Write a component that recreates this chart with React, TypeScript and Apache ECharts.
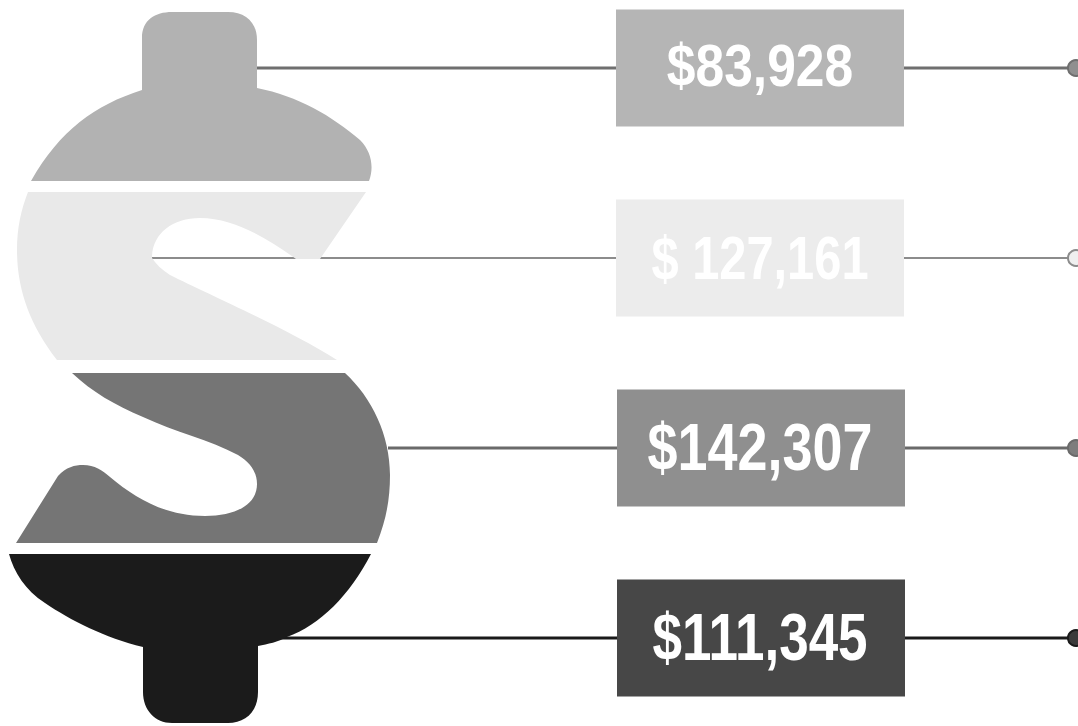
import React, { useEffect, useRef } from "react";
import * as echarts from "echarts";

const rows = [0, 1, 2, 3];
const amounts = [83928, 127161, 142307, 111345];
const amountLabels = ["$83,928", "$ 127,161", "$142,307", "$111,345"];

const segmentPaths = [
  "M 31 181 C 60 130 95 105 142 90 L 142 38 C 142 20 155 12 172 12 L 228 12 C 245 12 257 22 257 40 L 257 88 C 298 96 332 116 360 140 C 372 152 374 168 369 181 Z",
  "M 28 192 L 366 192 L 320 259 L 296 259 C 270 240 235 218 200 218 C 172 218 152 234 152 258 C 156 264 162 270 170 275 C 210 295 290 330 337 360 L 57 360 C 30 325 17 290 17 250 C 17 228 21 210 28 192 Z",
  "M 72 373 L 345 373 C 372 398 390 435 390 475 C 390 500 386 520 377 543 L 16 543 L 58 476 C 66 467 75 465 83 465 C 95 465 102 470 110 477 C 135 498 165 516 205 516 C 235 516 257 505 257 484 C 257 472 250 462 238 455 C 210 440 175 432 143 417 C 115 405 92 392 72 373 Z",
  "M 9 554 L 371 554 C 350 595 320 625 287 637 C 278 642 268 644 258 646 L 258 692 C 258 712 245 723 228 723 L 172 723 C 155 723 143 710 143 692 L 143 647 C 105 638 70 620 45 603 C 25 590 14 572 9 554 Z",
];
const segmentColors = ["#b2b2b2", "#e9e9e9", "#757575", "#1b1b1b"];
const boxColors = ["#b5b5b5", "#ececec", "#8f8f8f", "#474747"];
const lineColors = ["#6f6f6f", "#8c8c8c", "#6a6a6a", "#1a1a1a"];
const dotColors = ["#8f8f8f", "#efefef", "#7d7d7d", "#3a3a3a"];
const lineStarts = [256, 152, 388, 280];
const boxLefts = [616, 616, 617, 617];
const fontSizes = [60, 61, 67, 66];
const textScales = [0.86, 0.8, 0.805, 0.803];
const textOffsets = [-3, 0, -1, -1];

export default function App() {
  const ref = useRef<HTMLDivElement>(null);
  useEffect(() => {
    const chart = echarts.init(ref.current!, null, { renderer: "svg" });
    chart.setOption({
      animation: false,
      backgroundColor: "#ffffff",
      grid: { left: 0, right: 0, top: 0, bottom: 0, containLabel: false },
      xAxis: { type: "value", min: 0, max: 1078, show: false },
      yAxis: { type: "value", inverse: true, min: -68 / 190, max: 658 / 190, show: false },
      series: [
        {
          type: "custom",
          coordinateSystem: "cartesian2d",
          clip: false,
          data: amounts.map((v, i) => [v, rows[i]]),
          renderItem: (params: any, api: any) => {
            const i = params.dataIndex;
            const rowY = api.coord([0, api.value(1)])[1];
            const lineX = api.coord([lineStarts[i], 0])[0];
            const dotX = api.coord([1076, 0])[0];
            const boxX = api.coord([boxLefts[i], 0])[0];
            const boxW = 288;
            const boxH = 117;
            return {
              type: "group",
              children: [
                {
                  type: "line",
                  shape: { x1: lineX, y1: rowY, x2: dotX, y2: rowY },
                  style: { stroke: lineColors[i], lineWidth: i === 1 ? 2 : 3 },
                },
                {
                  type: "circle",
                  shape: { cx: dotX, cy: rowY, r: 8 },
                  style: { fill: dotColors[i], stroke: lineColors[i], lineWidth: 2 },
                },
                {
                  type: "path",
                  shape: { pathData: segmentPaths[i] },
                  style: { fill: segmentColors[i] },
                },
                {
                  type: "rect",
                  shape: { x: boxX, y: rowY - boxH / 2, width: boxW, height: boxH },
                  style: { fill: boxColors[i] },
                },
                {
                  type: "text",
                  x: 760,
                  y: rowY + textOffsets[i],
                  scaleX: textScales[i],
                  style: {
                    text: amountLabels[i],
                    fill: "#ffffff",
                    font: `bold ${fontSizes[i]}px 'Liberation Sans', sans-serif`,
                    align: "center",
                    verticalAlign: "middle",
                  },
                },
              ],
            };
          },
        },
      ],
    });
    return () => chart.dispose();
  }, []);
  return (
    <div
      ref={ref}
      style={{ position: "fixed", left: 0, top: 0, width: 1078, height: 726 }}
    />
  );
}
